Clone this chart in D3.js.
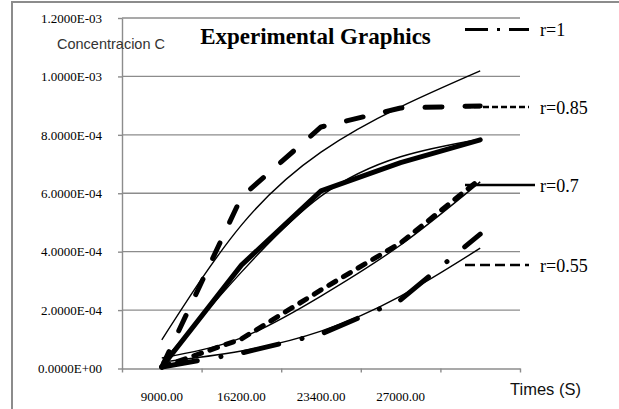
<!DOCTYPE html>
<html lang="en">
<head>
    <meta charset="UTF-8">
    <title>Experimental Graphics</title>
    <script src="https://d3js.org/d3.v7.min.js" charset="utf-8"></script>
    <style>
        body { margin: 0; background: #fff; }
        svg { display: block; }
    </style>
</head>
<body>
<script>
    // categories on the x axis (last one has no label in the original)
    var categories = ["9000.00", "16200.00", "23400.00", "27000.00", ""];
    var yTicks = [0, 2e-4, 4e-4, 6e-4, 8e-4, 1e-3, 1.2e-3];

    // measured series (thick) and their trend lines (thin)
    var seriesLongDash = [0.05e-4, 5.87e-4, 8.27e-4, 8.92e-4, 8.99e-4];
    var trendLongDash  = [0.98e-4, 4.91e-4, 7.41e-4, 8.96e-4, 10.19e-4];
    var seriesSolid    = [0.05e-4, 3.54e-4, 6.08e-4, 7.05e-4, 7.83e-4];
    var trendSolid     = [0.20e-4, 3.30e-4, 5.90e-4, 7.25e-4, 7.85e-4];
    var seriesDash     = [0.05e-4, 1.01e-4, 2.69e-4, 4.30e-4, 6.49e-4];
    var trendDash      = [0.36e-4, 1.05e-4, 2.48e-4, 4.23e-4, 6.39e-4];
    var seriesDashDot  = [0.05e-4, 0.53e-4, 1.18e-4, 2.35e-4, 4.60e-4];
    var trendDashDot   = [0.22e-4, 0.60e-4, 1.28e-4, 2.48e-4, 4.12e-4];

    var legendLabels = ["r=1", "r=0.85", "r=0.7", "r=0.55"];

    // layout
    var W = 619, H = 409;
    var plot = {left: 122, right: 520, top: 18, bottom: 368.5};

    var svg = d3.select("body").append("svg")
        .attr("width", W)
        .attr("height", H);

    // outer chart frame (cut off on the right and bottom)
    svg.append("rect")
        .attr("x", 12).attr("y", 2)
        .attr("width", 700).attr("height", 500)
        .attr("fill", "none")
        .attr("stroke", "#8c8c8c")
        .attr("stroke-width", 2);

    // scales
    var x = d3.scaleBand()
        .domain(d3.range(categories.length))
        .range([plot.left, plot.right])
        .padding(0);
    var xEdge = d3.scaleLinear()
        .domain([0, categories.length])
        .range([plot.left, plot.right]);
    var y = d3.scaleLinear()
        .domain([0, 1.2e-3])
        .range([plot.bottom, plot.top]);

    function cx(i) { return x(i) + x.bandwidth() / 2; }

    // gridlines
    svg.append("g").selectAll("line")
        .data(yTicks.slice(1))
        .enter().append("line")
        .attr("x1", plot.left).attr("x2", plot.right)
        .attr("y1", function(d) { return y(d); })
        .attr("y2", function(d) { return y(d); })
        .attr("stroke", "#8c8c8c")
        .attr("stroke-width", 1.4);

    function fmtE(d) {
        return d.toExponential(4).toUpperCase().replace(/E([+-])(\d)$/, "E$10$2");
    }

    // y axis
    var yAxis = svg.append("g")
        .attr("transform", "translate(" + plot.left + ",0)")
        .call(d3.axisLeft(y).tickValues(yTicks).tickFormat(fmtE)
            .tickSize(4).tickSizeOuter(0).tickPadding(16));
    yAxis.select(".domain").attr("stroke", "#8c8c8c").attr("stroke-width", 1.4);
    yAxis.selectAll(".tick line").attr("stroke", "#8c8c8c").attr("stroke-width", 1.4);
    yAxis.selectAll("text")
        .attr("font-family", "'Liberation Serif', 'Times New Roman', serif")
        .attr("font-size", 13)
        .attr("fill", "#000");

    // x axis: tick marks at category edges
    var xTicks = svg.append("g")
        .attr("transform", "translate(0," + plot.bottom + ")")
        .call(d3.axisBottom(xEdge).tickValues(d3.range(categories.length + 1))
            .tickFormat("").tickSize(4).tickSizeOuter(0));
    xTicks.select(".domain").attr("stroke", "#8c8c8c").attr("stroke-width", 1.4);
    xTicks.selectAll(".tick line").attr("stroke", "#8c8c8c").attr("stroke-width", 1.4);

    // x axis: labels at category centres
    var xLabels = svg.append("g")
        .attr("transform", "translate(0," + plot.bottom + ")")
        .call(d3.axisBottom(x).tickFormat(function(i) { return categories[i]; })
            .tickSize(0).tickPadding(23));
    xLabels.select(".domain").remove();
    xLabels.selectAll("text")
        .attr("font-family", "'Liberation Serif', 'Times New Roman', serif")
        .attr("font-size", 13)
        .attr("fill", "#000");

    // data series
    var dataLine = d3.line()
        .x(function(d, i) { return cx(i); })
        .y(function(d) { return y(d); });
    var trendLine = d3.line()
        .x(function(d, i) { return cx(i); })
        .y(function(d) { return y(d); })
        .curve(d3.curveNatural);

    var thick = [
        {values: seriesSolid,    dash: null},
        {values: seriesDashDot,  dash: "36 24 0.1 23"},
        {values: seriesDash,     dash: "8 9"},
        {values: seriesLongDash, dash: "17 23"}
    ];
    thick.forEach(function(s) {
        svg.append("path")
            .datum(s.values)
            .attr("d", dataLine)
            .attr("fill", "none")
            .attr("stroke", "#000")
            .attr("stroke-width", 5)
            .attr("stroke-linecap", "round")
            .attr("stroke-linejoin", "round")
            .attr("stroke-dasharray", s.dash);
    });

    [trendLongDash, trendSolid, trendDash, trendDashDot].forEach(function(t) {
        svg.append("path")
            .datum(t)
            .attr("d", trendLine)
            .attr("fill", "none")
            .attr("stroke", "#000")
            .attr("stroke-width", 1.4);
    });

    // legend
    var legendY = [29.5, 107, 185, 265];
    var legendDash = ["23 9 3 9 40", "6 3", null, "10 5"];
    var legendWidth = [3, 2.5, 2.7, 2.7];
    var legend = svg.append("g");
    legendLabels.forEach(function(label, i) {
        legend.append("line")
            .attr("x1", 465).attr("x2", i === 2 ? 535 : 529)
            .attr("y1", legendY[i]).attr("y2", legendY[i])
            .attr("stroke", "#000")
            .attr("stroke-width", legendWidth[i])
            .attr("stroke-dasharray", legendDash[i]);
        legend.append("text")
            .attr("x", 540)
            .attr("y", legendY[i] + 6.5)
            .attr("font-family", "'Liberation Serif', 'Times New Roman', serif")
            .attr("font-size", 18)
            .attr("fill", "#000")
            .text(label);
    });

    // titles
    svg.append("text")
        .attr("x", 315.5).attr("y", 43.5)
        .attr("text-anchor", "middle")
        .attr("font-family", "'Liberation Serif', 'Times New Roman', serif")
        .attr("font-weight", "bold")
        .attr("font-size", 23)
        .attr("fill", "#000")
        .text("Experimental Graphics");

    svg.append("text")
        .attr("x", 57).attr("y", 49)
        .attr("font-family", "'Liberation Sans', Arial, sans-serif")
        .attr("font-size", 14.5)
        .attr("fill", "#333")
        .text("Concentracion C");

    svg.append("text")
        .attr("x", 510).attr("y", 395)
        .attr("font-family", "'Liberation Sans', Arial, sans-serif")
        .attr("font-size", 16.5)
        .attr("fill", "#111")
        .text("Times (S)");
</script>
</body>
</html>
